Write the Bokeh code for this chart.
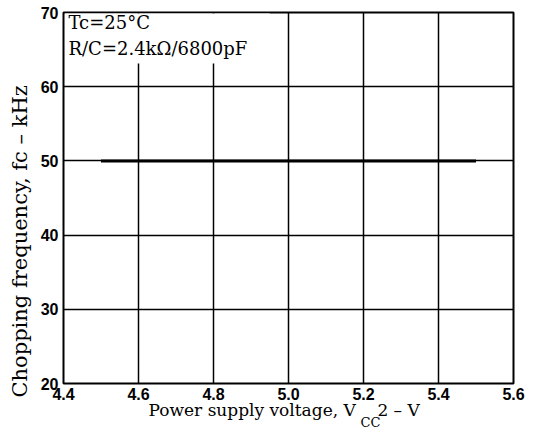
import math
from bokeh.plotting import figure
from bokeh.models import Range1d, FixedTicker, Label, BoxAnnotation, ColumnDataSource, Title
from bokeh.embed import file_html
from bokeh.resources import INLINE

# ---- data ----
x_ticks = [4.4, 4.6, 4.8, 5.0, 5.2, 5.4, 5.6]
x_tick_labels = ["4.4", "4.6", "4.8", "5.0", "5.2", "5.4", "5.6"]
y_ticks = [20, 30, 40, 50, 60, 70]
y_tick_labels = ["20", "30", "40", "50", "60", "70"]
voltage = [4.5, 5.5]
chopping_freq = [50.0, 50.0]

SERIF = "DejaVu Serif"
SANS = "Liberation Sans"
NB = "\u00a0"

p = figure(width=533, height=433, output_backend="svg", toolbar_location=None,
           x_range=Range1d(4.4, 5.6), y_range=Range1d(20, 70),
           min_border_left=63, min_border_right=20, min_border_top=12,
           min_border_bottom=50)
p.background_fill_color = "white"
p.border_fill_color = "white"
p.outline_line_color = "black"
p.outline_line_width = 2

for ax, ticks, labels in ((p.xaxis[0], x_ticks, x_tick_labels),
                          (p.yaxis[0], y_ticks, y_tick_labels)):
    ax.ticker = FixedTicker(ticks=ticks)
    ax.major_label_overrides = {t: l for t, l in zip(ticks, labels)}
    ax.axis_line_color = None
    ax.major_tick_line_color = None
    ax.minor_tick_line_color = None
    ax.major_tick_in = 0
    ax.major_tick_out = 0
    ax.major_label_text_font = SANS
    ax.major_label_text_font_style = "bold"
    ax.major_label_text_font_size = "16px"
    ax.major_label_text_color = "black"
p.xaxis.major_label_standoff = 4
p.yaxis.major_label_standoff = 5

p.xgrid.grid_line_color = "black"
p.ygrid.grid_line_color = "black"
p.xgrid.grid_line_width = 1.5
p.ygrid.grid_line_width = 1.5

src = ColumnDataSource(dict(v=voltage, f=chopping_freq))
p.line("v", "f", source=src, line_color="black", line_width=3)

# white box behind the condition text
p.add_layout(BoxAnnotation(left=4.404, right=4.95, bottom=63.13, top=69.85,
                           fill_color="white", fill_alpha=1.0, line_color=None,
                           level="glyph"))

def lab(x, y, text, size, align="left", units="data", place="center"):
    p.add_layout(Label(x=x, y=y, text=text, text_font=SERIF,
                       text_font_size=size, text_align=align,
                       text_baseline="alphabetic",
                       x_units=units, y_units=units,
                       text_color="black"), place)

lab(4.4133, 68.65, "Tc=25°C", "18px")
lab(4.4133, 65.14, "R/C=2.4kΩ/6800pF", "18px")

# y axis title
p.add_layout(Title(text="Chopping frequency, fc – kHz", text_font=SERIF,
                   text_font_size="21px", text_font_style="normal",
                   text_color="black", align="left", offset=-14,
                   standoff=11), "left")

# x axis title: main text below, subscript in the narrow right margin
lab(85, 13, "Power supply voltage, V" + NB * 4 + "2 – V", "17px",
    units="screen", place="below")
lab(-153, -39, "CC", "13px", units="screen", place="right")

open("out.html", "w").write(file_html(p, INLINE))
